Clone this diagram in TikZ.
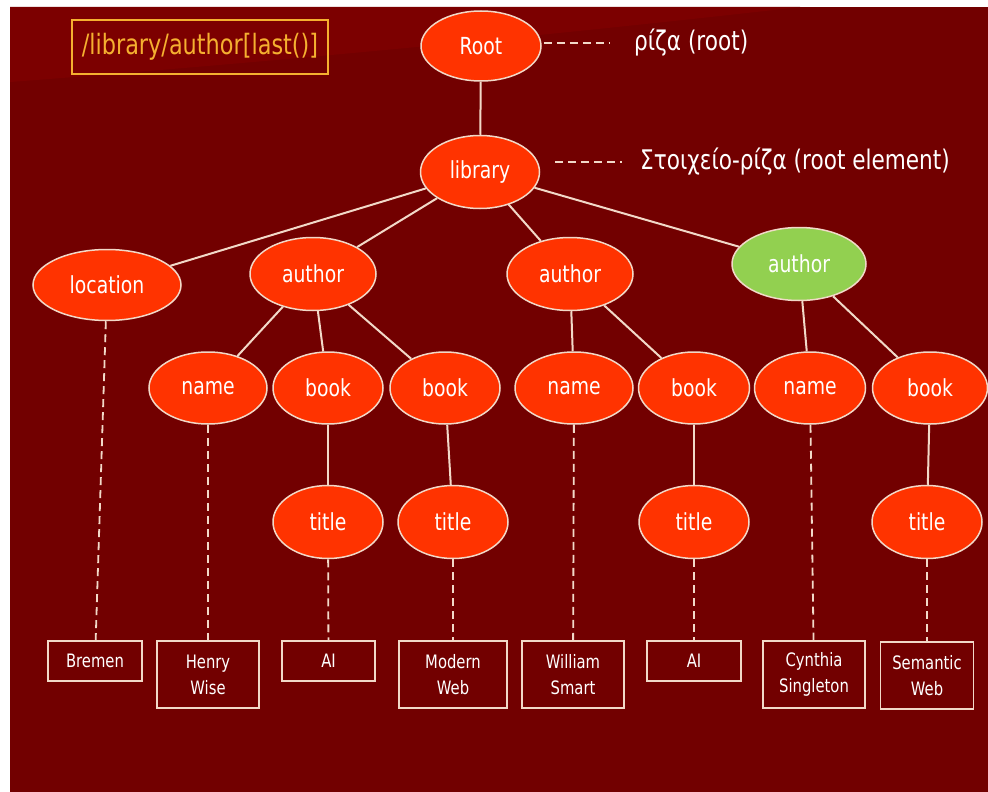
\documentclass[tikz,border=0pt]{standalone}
\usepackage{fontspec}
\setmainfont{DejaVu Sans}[FakeStretch=0.8]
\usetikzlibrary{shapes.geometric}

\definecolor{slidebg}{HTML}{720000}
\definecolor{slideband}{HTML}{7C0000}
\definecolor{nodered}{HTML}{FF3300}
\definecolor{nodegreen}{HTML}{92D050}
\definecolor{linecol}{HTML}{F2D9C8}
\definecolor{pathgold}{HTML}{F5B030}

\begin{document}
\begin{tikzpicture}[x=1pt,y=-1pt,
    elem/.style={ellipse, draw=linecol, line width=1.5pt, fill=nodered, text=white,
        inner sep=0pt, minimum width=118pt, minimum height=72pt,
        font=\fontsize{23.5}{26}\selectfont},
    leaf/.style={rectangle, draw=linecol, line width=1.5pt, text=white, align=center,
        inner sep=0pt, minimum height=40pt, font=\fontsize{18.5}{26}\selectfont},
    leaftall/.style={leaf, minimum height=67pt},
    edge/.style={draw=linecol, line width=2pt},
    dashline/.style={draw=linecol, line width=1.8pt, dash pattern=on 8pt off 5pt},
    note/.style={text=white, anchor=west, inner sep=3pt, font=\fontsize{27}{30}\selectfont}]

    % Slide background
    \useasboundingbox (0,0) rectangle (988,792);
    \fill[white] (0,0) rectangle (988,792);
    \fill[slidebg] (10,7) rectangle (988,792);
    \fill[slideband] (10,7) -- (800,7) .. controls (600,30) and (300,60) .. (10,82) -- cycle;

    % XPath expression
    \node[draw=pathgold, line width=1.5pt, text=pathgold, minimum width=256pt, minimum height=54pt,
        inner sep=0pt, font=\fontsize{28}{30}\selectfont] (xpath) at (200,47) {/library/author[last()]};

    % Root and root element
    \node[elem, minimum width=120pt, minimum height=70pt] (root) at (481,46) {Root};
    \node[elem, minimum width=119pt, minimum height=73pt] (library) at (480,172) {library};
    \node[note] (rootnote) at (631,43) {ρίζα (root)};
    \node[note] (libnote) at (637,162) {Στοιχείο-ρίζα (root element)};

    % Children of library
    \node[elem, minimum width=148pt, minimum height=71pt] (location) at (107,285) {location};
    \node[elem, minimum width=126pt, minimum height=73pt] (author1) at (313,274) {author};
    \node[elem, minimum width=126pt, minimum height=73pt] (author2) at (570,274) {author};
    \node[elem, fill=nodegreen, minimum width=134pt, minimum height=73pt] (author3) at (799,264) {author};

    % Children of the authors
    \node[elem] (name1) at (208,388) {name};
    \node[elem, minimum width=110pt] (book1) at (328,388) {book};
    \node[elem, minimum width=110pt] (book2) at (445,388) {book};
    \node[elem] (name2) at (574,388) {name};
    \node[elem, minimum width=111pt] (book3) at (694,388) {book};
    \node[elem, minimum width=111pt] (name3) at (810,388) {name};
    \node[elem, minimum width=115pt] (book4) at (930,388) {book};

    % Titles
    \node[elem, minimum width=110pt, minimum height=73pt] (title1) at (328,522) {title};
    \node[elem, minimum width=110pt, minimum height=73pt] (title2) at (453,522) {title};
    \node[elem, minimum width=110pt, minimum height=73pt] (title3) at (694,522) {title};
    \node[elem, minimum width=110pt, minimum height=73pt] (title4) at (927,522) {title};

    % Text values
    \node[leaf, minimum width=94pt] (bremen) at (95,661) {Bremen};
    \node[leaftall, minimum width=102pt] (henry) at (208,674.5) {Henry\\Wise};
    \node[leaf, minimum width=93pt] (ai1) at (328.5,661) {AI};
    \node[leaftall, minimum width=108pt] (modern) at (453,674.5) {Modern\\Web};
    \node[leaftall, minimum width=102pt] (william) at (573,674.5) {William\\Smart};
    \node[leaf, minimum width=94pt] (ai2) at (694,661) {AI};
    \node[leaftall, minimum width=102pt] (cynthia) at (814,674.5) {Cynthia\\Singleton};
    \node[leaftall, minimum width=93pt] (semantic) at (927,675.5) {Semantic\\Web};

    % Tree edges
    \draw[edge] (root) -- (library);
    \draw[edge] (library) -- (location);
    \draw[edge] (library) -- (author1);
    \draw[edge] (library) -- (author2);
    \draw[edge] (library) -- (author3);
    \draw[edge] (author1) -- (name1);
    \draw[edge] (author1) -- (book1);
    \draw[edge] (author1) -- (book2);
    \draw[edge] (author2) -- (name2);
    \draw[edge] (author2) -- (book3);
    \draw[edge] (author3) -- (name3);
    \draw[edge] (author3) -- (book4);
    \draw[edge] (book1) -- (title1);
    \draw[edge] (book2) -- (title2);
    \draw[edge] (book3) -- (title3);
    \draw[edge] (book4) -- (title4);

    % Dashed links to text values and notes
    \draw[dashline] (location) -- (bremen);
    \draw[dashline] (name1) -- (henry);
    \draw[dashline] (title1) -- (ai1);
    \draw[dashline] (title2) -- (modern);
    \draw[dashline] (name2) -- (william);
    \draw[dashline] (title3) -- (ai2);
    \draw[dashline] (name3) -- (cynthia);
    \draw[dashline] (title4) -- (semantic);
    \draw[dashline, shorten <=2pt, shorten >=21pt] (root.east |- rootnote.west) -- (rootnote.west);
    \draw[dashline, shorten <=15pt, shorten >=15pt] (library.east |- libnote.west) -- (libnote.west);

\end{tikzpicture}
\end{document}
